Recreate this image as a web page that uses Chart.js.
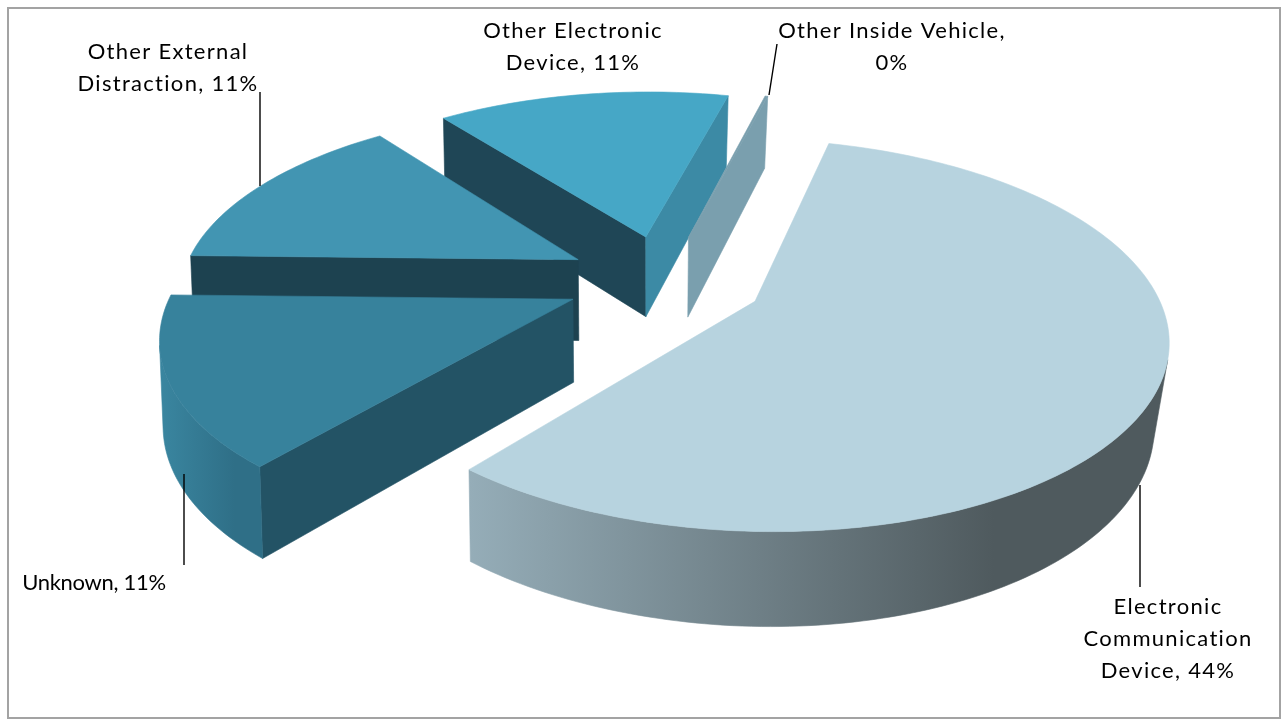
<!DOCTYPE html>
<html>
<head>
<meta charset="utf-8">
<title>Distraction sources</title>
<script src="https://cdn.jsdelivr.net/npm/chart.js@4"></script>
<style>
    html, body { margin: 0; padding: 0; background: #fff; }
    #frame { position: absolute; left: 7px; top: 7px; width: 1270px; height: 708px; border: 2px solid #a3a3a3; }
    #chart { position: absolute; left: 0; top: 0; }
</style>
</head>
<body>
<canvas id="chart" width="1287" height="724"></canvas>
<div id="frame"></div>
<script>
// ── Data ──────────────────────────────────────────────────────────────────
const categories = ['Electronic Communication Device', 'Unknown', 'Other External Distraction', 'Other Electronic Device', 'Other Inside Vehicle'];
const sliceValues = [44, 11, 11, 11, 0.1];
const percentLabels = ['44%', '11%', '11%', '11%', '0%'];

// ── Styles ────────────────────────────────────────────────────────────────
const topColors = ['#b7d3df', '#37829c', '#4295b2', '#46a7c6', '#7a9fae'];
const startWallColors = ['#5f6f76', '#235365', '#1d4250', '#1f4656', '#7a9fae'];
const endWallColors = ['#5f6f76', '#235365', '#1d4250', '#3c8aa5', '#7a9fae'];
const outerWallStops = [['#95adb8', '#4f5a5e'], ['#3a86a0', '#2f6f87'], ['#3b88a2', '#3b88a2'], ['#3b88a2', '#3b88a2'], ['#7a9fae', '#7a9fae']];

// Label text broken the way the reference wraps it, with its anchor and leader.
const labelLayout = [
    { lines: ['Electronic', 'Communication', `Device, ${percentLabels[0]}`], x: 1168, y: 614, spacing: 1.3, leader: [1140, 485, 1140, 587] },
    { lines: [`Unknown, ${percentLabels[1]}`], x: 94, y: 590, spacing: -0.3, leader: [184, 474, 184, 565] },
    { lines: ['Other External', `Distraction, ${percentLabels[2]}`], x: 168, y: 59, spacing: 1.3, leader: [260, 92, 260, 186] },
    { lines: ['Other Electronic', `Device, ${percentLabels[3]}`], x: 573, y: 38, spacing: 1.3, leader: null },
    { lines: ['Other Inside Vehicle,', percentLabels[4]], x: 892, y: 38, spacing: 1.3, leader: [777, 44, 769, 95] },
];

// ── 3D view of the pie plane ──────────────────────────────────────────────
const EXPLODE = 0.25;      // slice offset, fraction of the radius
const SCALE_X = 1.4179;    // screen px per chart px across
const SCALE_Y = 0.6536;    // screen px per chart px in depth
const PERSPECTIVE = 0.17;
const DEPTH = 82;          // extrusion height
// lower face sits further from the camera, more so on the right of the view
const BASE_SHRINK_LEFT = 0.993;
const BASE_SHRINK_RIGHT = 0.97;

const makeProjector = (arc, mid) => (angle, radius, lower) => {
    const u = Math.cos(angle) * radius + EXPLODE * Math.cos(mid);
    const v = Math.sin(angle) * radius + EXPLODE * Math.sin(mid);
    const s = 1 / (1 - PERSPECTIVE * v);
    const R = arc.outerRadius;
    const x = R * SCALE_X * u * s;
    const y = R * SCALE_Y * v * s;
    if (!lower) return [arc.x + x, arc.y + y];
    return [arc.x + x * (x > 0 ? BASE_SHRINK_RIGHT : BASE_SHRINK_LEFT), arc.y + y + DEPTH * Math.pow(s, 0.7)];
};

const fillPoly = (ctx, pts, fill) => {
    ctx.beginPath();
    pts.forEach((p, i) => (i ? ctx.lineTo(p[0], p[1]) : ctx.moveTo(p[0], p[1])));
    ctx.closePath();
    ctx.fillStyle = fill;
    ctx.strokeStyle = fill;
    ctx.lineWidth = 0.6;
    ctx.fill();
    ctx.stroke();
};

const signedArea = (pts) => pts.reduce((sum, p, i) => {
    const q = pts[(i + 1) % pts.length];
    return sum + p[0] * q[1] - q[0] * p[1];
}, 0);

const drawSlice = (ctx, arc, i) => {
    const { startAngle, endAngle } = arc;
    const mid = (startAngle + endAngle) / 2;
    const project = makeProjector(arc, mid);

    const steps = Math.max(2, Math.ceil((endAngle - startAngle) / 0.02));
    const rim = [];
    for (let k = 0; k <= steps; k++) rim.push(startAngle + (endAngle - startAngle) * k / steps);

    const quadOf = (a1, r1, a2, r2) => [project(a1, r1), project(a2, r2), project(a2, r2, true), project(a1, r1, true)];

    // walls whose outside faces the camera (perimeter order: apex, rim, apex)
    const flatWall = (a1, r1, a2, r2, fill) => {
        const quad = quadOf(a1, r1, a2, r2);
        if (signedArea(quad) < 0) fillPoly(ctx, quad, fill);
    };
    flatWall(startAngle, 0, startAngle, 1, startWallColors[i]);
    flatWall(endAngle, 1, endAngle, 0, endWallColors[i]);

    // curved wall, joined into runs so the gradient has no seams
    const xs = rim.map(a => project(a, 1)[0]);
    const left = Math.min(...xs);
    const right = Math.max(...xs);
    const shade = ctx.createLinearGradient(left, 0, left + (right - left) * 0.75, 0);
    shade.addColorStop(0, outerWallStops[i][0]);
    shade.addColorStop(1, outerWallStops[i][1]);
    let run = [];
    const flush = () => {
        if (run.length > 1) {
            fillPoly(ctx, [...run.map(a => project(a, 1)), ...run.slice().reverse().map(a => project(a, 1, true))], shade);
        }
        run = [];
    };
    for (let k = 0; k < steps; k++) {
        if (signedArea(quadOf(rim[k], 1, rim[k + 1], 1)) < 0) {
            if (!run.length) run.push(rim[k]);
            run.push(rim[k + 1]);
        } else {
            flush();
        }
    }
    flush();

    fillPoly(ctx, [project(startAngle, 0), ...rim.map(a => project(a, 1))], topColors[i]);
};

const pie3d = {
    id: 'pie3d',
    beforeDatasetsDraw(chart) {
        const ctx = chart.ctx;
        const arcs = chart.getDatasetMeta(0).data;
        // far slices first
        const order = arcs.map((arc, i) => i).sort((a, b) =>
            Math.sin((arcs[a].startAngle + arcs[a].endAngle) / 2) - Math.sin((arcs[b].startAngle + arcs[b].endAngle) / 2));
        ctx.save();
        order.forEach(i => drawSlice(ctx, arcs[i], i));
        ctx.restore();
        return false; // the flat arcs are replaced by the extruded ones
    },
    afterDraw(chart) {
        const ctx = chart.ctx;
        ctx.save();
        ctx.font = '22px Lato';
        ctx.fillStyle = '#000';
        ctx.textAlign = 'center';
        ctx.textBaseline = 'alphabetic';
        labelLayout.forEach(label => {
            ctx.letterSpacing = `${label.spacing}px`;
            label.lines.forEach((line, n) => ctx.fillText(line, label.x, label.y + n * 32));
            if (label.leader) {
                const [x1, y1, x2, y2] = label.leader;
                ctx.beginPath();
                ctx.moveTo(x1, y1);
                ctx.lineTo(x2, y2);
                ctx.lineWidth = 1.4;
                ctx.strokeStyle = '#000';
                ctx.stroke();
            }
        });
        ctx.restore();
    },
};

new Chart(document.getElementById('chart'), {
    type: 'pie',
    data: {
        labels: categories,
        datasets: [{ data: sliceValues, backgroundColor: topColors, borderWidth: 0 }],
    },
    options: {
        responsive: false,
        animation: false,
        rotation: 14.5,
        layout: { padding: { left: 43, top: 0, right: 0, bottom: 164 } },
        plugins: { legend: { display: false }, tooltip: { enabled: false } },
    },
    plugins: [pie3d],
});
</script>
</body>
</html>
